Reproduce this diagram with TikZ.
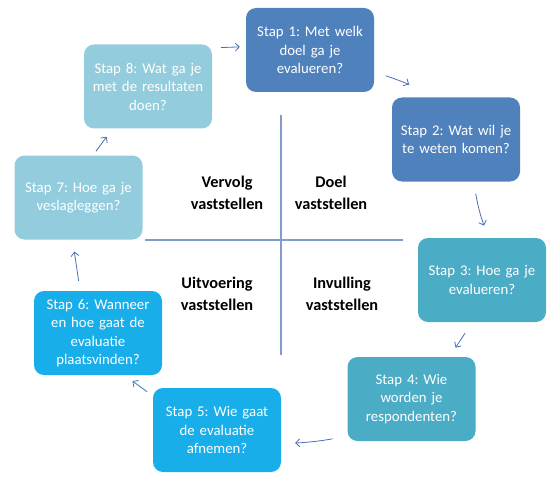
\documentclass[tikz,border=0pt]{standalone}
\usepackage{fontspec}
\setmainfont{Carlito}
\usepackage{tikz}
\usetikzlibrary{arrows.meta}
\definecolor{DBlue} {HTML}{4F81BD}
\definecolor{Teal}  {HTML}{4BACC6}
\definecolor{Bright}{HTML}{18AEEA}
\definecolor{Pale}  {HTML}{93CDDD}
\definecolor{ArrBl} {HTML}{4A6FB5}
\definecolor{Cross} {HTML}{7F9CCB}
\frenchspacing

\begin{document}
\begin{tikzpicture}[x=1pt,y=-1pt,
  box/.style={rectangle,rounded corners=10pt,minimum width=128pt,minimum height=84pt,
    text width=126pt,align=center,inner sep=1pt,text=white,
    font=\fontsize{14.8}{18.5}\selectfont},
  lab/.style={align=center,font=\fontsize{16.3}{22}\selectfont\bfseries},
  arr/.style={-{Straight Barb[length=4pt,width=8pt]},line width=0.8pt,draw=ArrBl},
  cross/.style={line width=1.2pt,draw=Cross}
]
\useasboundingbox (0,0) rectangle (554,492);
% the cross in the middle
\coordinate (vt) at (281,115); \coordinate (vb) at (281,355);
\coordinate (hl) at (145,240); \coordinate (hr) at (403,240);
\draw[cross](vt)--(vb);
\draw[cross](hl)--(hr);
\node[lab](q1) at (227,193){Vervolg\\vaststellen};
\node[lab](q2) at (331,193){Doel\\vaststellen};
\node[lab](q3) at (217,294){Uitvoering\\vaststellen};
\node[lab](q4) at (342,294){Invulling\\vaststellen};
% the eight steps
\node[box,fill=DBlue](s1) at (310,50){Stap 1: Met welk\\doel ga je\\evalueren?};
\node[box,fill=DBlue](s2) at (456,139.5){Stap 2: Wat wil je\\te weten komen?};
\node[box,fill=Teal](s3) at (482,280){Stap 3: Hoe ga je\\evalueren?};
\node[box,fill=Teal](s4) at (411.5,399){Stap 4: Wie\\worden je\\respondenten?};
\node[box,fill=Bright](s5) at (217,430){Stap 5: Wie gaat\\de evaluatie\\afnemen?};
\node[box,fill=Bright](s6) at (98,333){Stap 6: Wanneer\\en hoe gaat de\\evaluatie\\plaatsvinden?};
\node[box,fill=Pale](s7) at (78.5,197.5){Stap 7: Hoe ga je\\veslagleggen?};
\node[box,fill=Pale](s8) at (148,86.5){Stap 8: Wat ga je\\met de resultaten\\doen?};
% arrows in the gaps
\draw[arr,shorten <=12pt,shorten >=26pt](s1.-19)to[bend left=6](s2.120);
\draw[arr,shorten <=12pt,shorten >=13pt](s2.-67)to[bend right=6](s3.81);
\draw[arr,shorten <=13pt,shorten >=11pt](s3.-103)--(s4.48);
\draw[arr,shorten <=15pt,shorten >=14pt](s4.-150)to[bend left=4](s5.-12);
\draw[arr,shorten <=7pt,shorten >=10pt](s5.152)--(s6.-58);
\draw[arr,shorten <=10pt,shorten >=12pt](s6.113)--(s7.-98);
\draw[arr,shorten <=5pt,shorten >=10pt](s7.71)--(s8.-130);
\draw[arr,shorten <=9pt,shorten >=6pt](s8.31)--(s1.177);
\end{tikzpicture}
\end{document}
